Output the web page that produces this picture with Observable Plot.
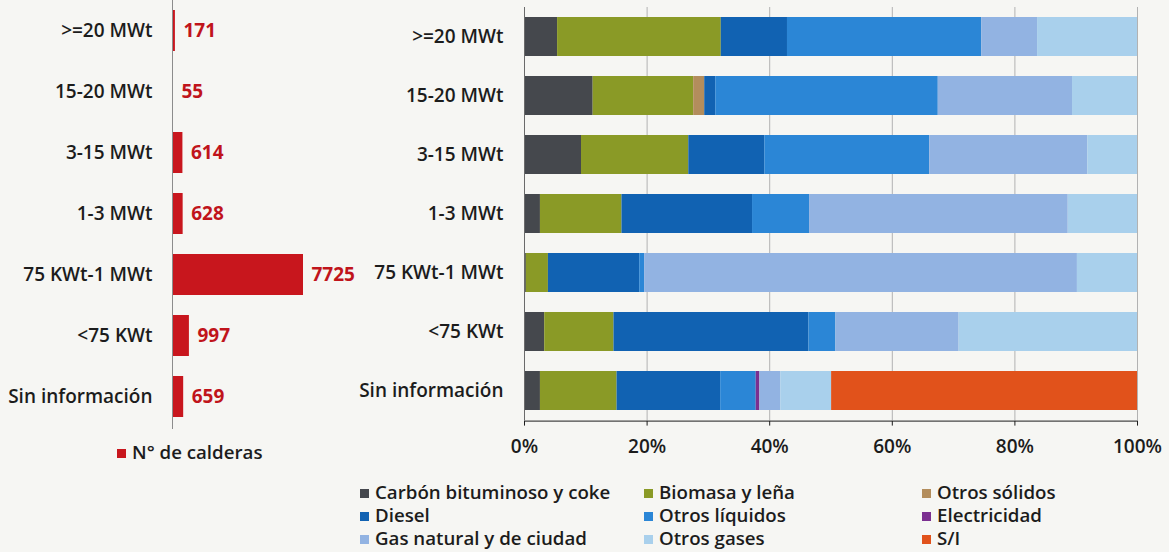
<!DOCTYPE html>
<html><head><meta charset="utf-8">
<script src="https://cdn.jsdelivr.net/npm/d3@7"></script>
<script src="https://cdn.jsdelivr.net/npm/@observablehq/plot@0.6"></script>
<style>
body{margin:0;background:#f6f6f3;}
#root{position:relative;width:1169px;height:552px;overflow:hidden;font-family:"Open Sans",Roboto,"Liberation Sans",sans-serif;background:#f6f6f3;}
#left{position:absolute;left:0;top:-2px;}
#right{position:absolute;left:320px;top:0;}
.lg{position:absolute;font-size:18.7px;font-weight:600;color:#1c1c1c;white-space:nowrap;line-height:20px}
.sw{display:inline-block;width:9px;height:9px;margin-right:6px;vertical-align:1px}
</style></head><body><div id="root"><div id="left"></div><div id="right"></div></div>
<script>
const categories = [">=20 MWt", "15-20 MWt", "3-15 MWt", "1-3 MWt", "75 KWt-1 MWt", "<75 KWt", "Sin información"];
const calderas = [171, 55, 614, 628, 7725, 997, 659];
const calderasLabel = "N° de calderas";
const fuels = ["Carbón bituminoso y coke", "Biomasa y leña", "Otros sólidos", "Diesel", "Otros líquidos", "Electricidad", "Gas natural y de ciudad", "Otros gases", "S/I"];
const fuelColors = ["#45484d", "#8a9a26", "#b38d5c", "#1162b2", "#2b86d6", "#7b2f90", "#92b3e2", "#a9d0ec", "#e1521b"];
// shares (%) per fuel, one value per category
const carbon        = [5.4, 11.2, 9.3, 2.6, 0.3, 3.3, 2.6];
const biomasa       = [26.7, 16.4, 17.5, 13.3, 3.6, 11.3, 12.5];
const otrosSolidos  = [0, 1.8, 0, 0, 0, 0, 0];
const diesel        = [10.8, 1.8, 12.4, 21.3, 14.9, 31.8, 16.9];
const otrosLiquidos = [31.7, 36.3, 26.9, 9.3, 0.8, 4.4, 5.8];
const electricidad  = [0, 0, 0, 0, 0, 0, 0.6];
const gasNatural    = [9.1, 21.9, 25.8, 42.2, 70.6, 20.1, 3.4];
const otrosGases    = [16.3, 10.6, 8.1, 11.3, 9.8, 29.1, 8.3];
const sinInfo       = [0, 0, 0, 0, 0, 0, 49.9];
const xTicks = [0, 20, 40, 60, 80, 100];

const shareByFuel = [carbon, biomasa, otrosSolidos, diesel, otrosLiquidos, electricidad, gasNatural, otrosGases, sinInfo];
const leftData = categories.map((c, i) => ({category: c, value: calderas[i]}));
const stacked = [];
categories.forEach((c, i) => fuels.forEach((f, j) => stacked.push({category: c, fuel: f, value: shareByFuel[j][i]})));

const font = '"Open Sans", Roboto, "Liberation Sans", sans-serif';

const left = Plot.plot({
  width: 360, height: 432,
  marginLeft: 172, marginRight: 57, marginTop: 0, marginBottom: 1,
  style: {background: "transparent", fontFamily: font, fontSize: "19px", fontWeight: "600", color: "#1c1c1c", overflow: "visible"},
  x: {domain: [0, 7725], axis: null},
  y: {domain: categories, paddingInner: 0.33, paddingOuter: 0.165, label: null, tickSize: 0, tickPadding: 20},
  marks: [
    Plot.barX(leftData, {x: "value", y: "category", fill: "#c8161d"}),
    Plot.ruleX([0], {stroke: "#8c8c8c"}),
    Plot.text(leftData, {x: "value", y: "category", text: d => String(d.value), textAnchor: "start", dx: 8, fill: "#c0141b", fontSize: 19, fontWeight: "bold"})
  ]
});
document.getElementById("left").appendChild(left);

const right = Plot.plot({
  width: 849, height: 460,
  marginLeft: 204, marginRight: 32, marginTop: 7, marginBottom: 39.4,
  style: {background: "transparent", fontFamily: font, fontSize: "19px", fontWeight: "600", color: "#1c1c1c", overflow: "visible"},
  x: {domain: [0, 100], ticks: xTicks, tickFormat: d => d + "%", tickSize: 5, tickPadding: 13, line: true, label: null},
  y: {domain: categories, paddingInner: 0.34, paddingOuter: 0.17, label: null, tickSize: 0, tickPadding: 21},
  color: {domain: fuels, range: fuelColors},
  marks: [
    Plot.ruleX(xTicks, {stroke: "#b2b2b2"}),
    Plot.barX(stacked, Plot.stackX({x: "value", y: "category", fill: "fuel", order: fuels})),
    Plot.ruleX([0], {stroke: "#6a6a6a"})
  ]
});
document.getElementById("right").appendChild(right);

const root = document.getElementById("root");
function addLegend(x, y, color, label) {
  const d = document.createElement("div");
  d.className = "lg";
  d.style.left = x + "px";
  d.style.top = (y - 10) + "px";
  const s = document.createElement("span");
  s.className = "sw";
  s.style.background = color;
  d.appendChild(s);
  d.appendChild(document.createTextNode(label));
  root.appendChild(d);
}
addLegend(117, 452, "#c8161d", calderasLabel);
const colX = [360, 644, 922];
const rowY = [492, 515, 538];
fuels.forEach((f, j) => addLegend(colX[j % 3], rowY[Math.floor(j / 3)], fuelColors[j], f));
</script></body></html>
